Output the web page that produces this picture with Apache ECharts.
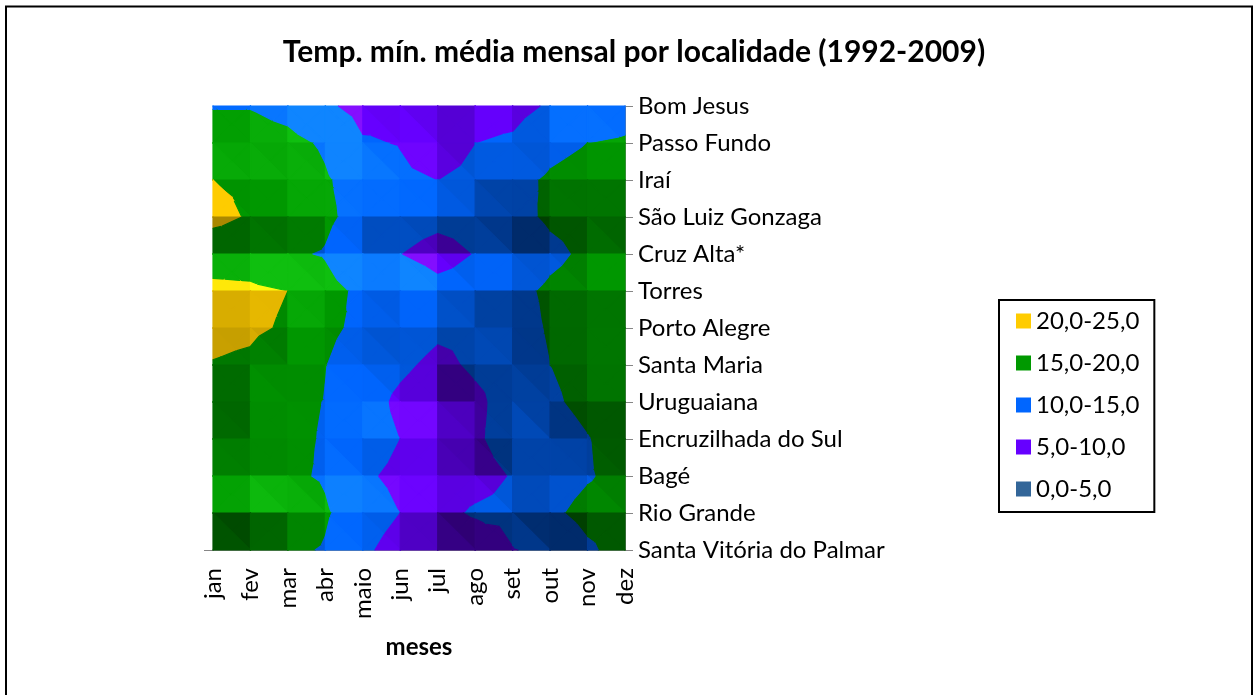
<!DOCTYPE html>
<html><head><meta charset="utf-8">
<style>html,body{margin:0;padding:0;background:#fff}#c{width:1253px;height:695px}</style>
<script src="https://cdn.jsdelivr.net/npm/echarts@6/dist/echarts.min.js"></script>
</head><body><div id="c"></div>
<script>
const months = ['jan','fev','mar','abr','maio','jun','jul','ago','set','out','nov','dez'];
const places = ['Bom Jesus','Passo Fundo','Iraí','São Luiz Gonzaga','Cruz Alta*','Torres','Porto Alegre','Santa Maria','Uruguaiana','Encruzilhada do Sul','Bagé','Rio Grande','Santa Vitória do Palmar'];
const bomJesus    = [14.8,14.8,13.5,10.7,8.7,8.9,8.4,8.2,8.5,10.55,11,12.5];
const passoFundo  = [17,17,16.3,14.4,10.4,9.85,8.0,10,10.7,13.6,15,15.7];
const irai        = [20,19.5,18,15.5,13,10.7,10,11,13.6,15.7,17,18];
const saoLuiz     = [21,19.7,18.5,16,13.1,12,11.2,11.5,13.3,15.9,17,18];
const cruzAlta    = [17.7,17.5,15.6,14.7,11,10.1,8.5,10.2,10.5,13.7,16.1,16];
const torres      = [21.2,20.9,20,16.5,14.1,13.5,11.4,11.8,13.4,16,17.5,18];
const portoAlegre = [20.9,20.6,19.6,15.8,14.2,13,11,10.9,12.5,15.6,17,17.7];
const santaMaria  = [19.85,19.4,17.5,15.1,13,11,8.8,10.8,12,15,16.8,17.5];
const uruguaiana  = [17.7,18.5,16,14.9,12.4,9,6.8,9,12.2,14.2,16.4,18];
const encruzilhada= [16.6,16.9,16,14.7,12.5,10,7.9,9.3,12.2,12.5,14.8,17.5];
const bage        = [16.6,16.6,15.7,14.6,10.8,8.9,7.6,8.4,10.3,12.5,14.6,16.6];
const rioGrande   = [19,20,18,15.5,12.6,10,8.7,10.6,11,14,16.6,17.3];
const santaVitoria= [16.3,16,15.8,14.7,11,7.9,6.5,7,9.9,10.6,14.2,17];
const rows = [bomJesus,passoFundo,irai,saoLuiz,cruzAlta,torres,portoAlegre,santaMaria,uruguaiana,encruzilhada,bage,rioGrande,santaVitoria];
const bandNames = ['20,0-25,0','15,0-20,0','10,0-15,0','5,0-10,0','0,0-5,0'];
const bandLow   = [20,15,10,5,0];
const bandColor = ['#FFCC00','#009900','#0066FF','#6600FF','#336699'];

function rgb(h){return [1,3,5].map(i=>parseInt(h.substr(i,2),16));}
function shade(hex,s){
  const c=rgb(hex);let r;
  if(s<=1) r=c.map(v=>v*s);
  else r=c.map(v=>Math.min(255,v*(1+(s-1)*0.5)+255*(s-1)*0.2));
  return 'rgb('+r.map(v=>Math.round(v)).join(',')+')';
}
function clip(poly,level,keepAbove){
  const out=[];
  for(let k=0;k<poly.length;k++){
    const a=poly[k],b=poly[(k+1)%poly.length];
    const ina=keepAbove?a[2]>=level:a[2]<=level, inb=keepAbove?b[2]>=level:b[2]<=level;
    if(ina) out.push(a);
    if(ina!==inb){const t=(level-a[2])/(b[2]-a[2]);out.push([a[0]+(b[0]-a[0])*t,a[1]+(b[1]-a[1])*t,level]);}
  }
  return out;
}
const BASE=0.85,KY=0.09,KX=0.085,TRI=0.25;
function lightOf(zx,zy){return BASE+KY*zy-KX*zx;}
function facetLight(t){
  const [a,b,c]=t;
  const ux=b[0]-a[0],uy=b[1]-a[1],uz=b[2]-a[2],vx=c[0]-a[0],vy=c[1]-a[1],vz=c[2]-a[2];
  const det=ux*vy-uy*vx;
  return lightOf((uz*vy-uy*vz)/det,(ux*vz-uz*vx)/det);
}
const cells=[];
for(let j=0;j<rows.length-1;j++)for(let i=0;i<months.length-1;i++)cells.push([i,j]);

function renderCell(params,api){
  const i=api.value(0),j=api.value(1);
  const P=(x,y)=>[x,y,rows[y][x]];
  const TL=P(i,j),TR=P(i+1,j),BL=P(i,j+1),BR=P(i+1,j+1);
  const C=[i+.5,j+.5,(TL[2]+TR[2]+BL[2]+BR[2])/4];
  const quad=lightOf((TR[2]+BR[2]-TL[2]-BL[2])/2,(BL[2]+BR[2]-TL[2]-TR[2])/2);
  const firstDiag=TL[2]+BR[2]<=TR[2]+BL[2];
  const halves = firstDiag
    ? [{f:[TL,BR,TR],t:[[TL,C,TR],[TR,C,BR]]},{f:[TL,BL,BR],t:[[TL,BL,C],[BL,BR,C]]}]
    : [{f:[TL,BL,TR],t:[[TL,BL,C],[TL,C,TR]]},{f:[TR,BL,BR],t:[[TR,C,BR],[BL,BR,C]]}];
  const o=api.coord([i,j]),e=api.coord([i+1,j+1]);
  const children=[];
  halves.forEach(h=>{
    const s=Math.max(0.42,Math.min(1.3,quad*(1-TRI)+facetLight(h.f)*TRI));
    h.t.forEach(t=>{
      bandLow.forEach((lo,b)=>{
        let p=clip(t,lo,true); if(p.length<3) return;
        p=clip(p,lo+5,false); if(p.length<3) return;
        const pts=p.map(v=>[o[0]+(e[0]-o[0])*(v[0]-i),o[1]+(e[1]-o[1])*(v[1]-j)]);
        const col=shade(bandColor[b],s);
        children.push({type:'polygon',shape:{points:pts},style:{fill:col,stroke:col,lineWidth:1.2,lineJoin:'round'}});
      });
    });
  });
  return {type:'group',children};
}
const font='Lato';
const chart=echarts.init(document.getElementById('c'),null,{renderer:'canvas'});
chart.setOption({
  animation:false,
  backgroundColor:'#fff',
  textStyle:{fontFamily:font},
  title:{text:'Temp. mín. média mensal por localidade (1992-2009)',left:629,top:32,textAlign:'center',
    textStyle:{fontFamily:font,fontSize:30,fontWeight:'bold',color:'#000'}},
  grid:{left:213,top:106,width:412,height:444,containLabel:false},
  xAxis:{type:'category',data:months,boundaryGap:false,
    axisLine:{lineStyle:{color:'#868686'}},axisTick:{length:7,lineStyle:{color:'#868686'}},
    axisLabel:{rotate:90,color:'#000',fontSize:24,margin:18,interval:0,fontFamily:font},
    name:'meses',nameLocation:'middle',nameGap:85,nameTextStyle:{fontFamily:font,fontWeight:'bold',fontSize:24,color:'#000'},splitLine:{show:false}},
  yAxis:{type:'category',data:places,inverse:true,boundaryGap:false,position:'right',
    axisLine:{show:true,lineStyle:{color:'#868686'}},axisTick:{show:true,length:8,lineStyle:{color:'#868686'}},
    axisLabel:{color:'#000',fontSize:24,margin:13,interval:0,fontFamily:font},splitLine:{show:false}},
  legend:{orient:'vertical',left:999,top:300,padding:[9,15,11,17],itemWidth:15,itemHeight:15,itemGap:18,
    borderColor:'#000',borderWidth:2,backgroundColor:'#fff',
    textStyle:{fontFamily:font,fontSize:24,color:'#000'},
    data:bandNames.map(n=>({name:n,icon:'rect'}))},
  graphic:[
    {type:'rect',shape:{x:6,y:6.5,width:1246,height:720},style:{fill:'none',stroke:'#000',lineWidth:2},silent:true,z:-1},
    {type:'line',shape:{x1:204,y1:550.5,x2:213,y2:550.5},style:{stroke:'#868686',lineWidth:1},silent:true}
  ],
  series:[
    {type:'custom',name:'surface',data:cells,renderItem:renderCell,encode:{x:0,y:1},clip:false,silent:true,z:1},
    ...bandNames.map((n,k)=>({type:'bar',name:n,data:[],itemStyle:{color:bandColor[k]}}))
  ]
});
</script></body></html>
